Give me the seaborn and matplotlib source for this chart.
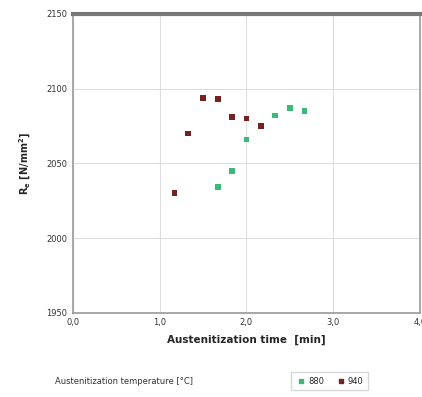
import pandas as pd
import numpy as np
import matplotlib.pyplot as plt
import seaborn as sns

# Austenitization data
time_940 = [1.17, 1.33, 1.50, 1.67, 1.83, 2.00, 2.17]
re_940 = [2030, 2070, 2094, 2093, 2081, 2080, 2075]
time_880 = [1.67, 1.83, 2.00, 2.33, 2.50, 2.67]
re_880 = [2034, 2045, 2066, 2082, 2087, 2085]
temps = ['880', '940']
colors = {'880': '#3cb878', '940': '#742222'}

data = pd.DataFrame({
    'time': time_880 + time_940,
    'Re': re_880 + re_940,
    'temp': ['880'] * len(time_880) + ['940'] * len(time_940),
})

sns.set_style('white')
plt.rcParams['font.family'] = ['DejaVu Sans']

fig = plt.figure(figsize=(4.22, 3.97), dpi=100)
ax = fig.add_axes([0.173, 0.212, 0.822, 0.753])

sns.scatterplot(data=data, x='time', y='Re', hue='temp', hue_order=temps,
                palette=colors, marker='s', s=18, edgecolor='none', ax=ax, legend=False)

ax.set_xlim(0, 4)
ax.set_ylim(1950, 2150)
ax.set_xticks([0, 1, 2, 3, 4])
ax.set_xticklabels(['0,0', '1,0', '2,0', '3,0', '4,0'])
ax.set_yticks([1950, 2000, 2050, 2100, 2150])
ax.tick_params(labelsize=6, length=0, pad=4, colors='#333333')
ax.grid(True, color='#dddddd', linewidth=0.8)

for side in ['left', 'right', 'bottom']:
    ax.spines[side].set_color('#999999')
    ax.spines[side].set_linewidth(1.2)
ax.spines['top'].set_color('#777777')
ax.spines['top'].set_linewidth(3)

ax.set_xlabel('Austenitization time  [min]', fontsize=7.5, fontweight='bold', labelpad=5)
ax.set_ylabel(r'R$_\mathbf{e}$ [N/mm$^\mathbf{2}$]', fontsize=7, fontweight='bold', labelpad=10)

fig.text(0.13, 0.04, 'Austenitization temperature [°C]', fontsize=6, va='center', color='#333333')
handles = [plt.Line2D([], [], marker='s', linestyle='', markersize=3.5, color=colors[t]) for t in temps]
fig.legend(handles, temps, loc='center', bbox_to_anchor=(0.78, 0.04), ncol=2, fontsize=6,
           frameon=True, fancybox=False, edgecolor='#cccccc', handletextpad=0.1,
           columnspacing=1.2, handlelength=1.5, borderpad=0.5)

plt.savefig('out.png', dpi=100)
